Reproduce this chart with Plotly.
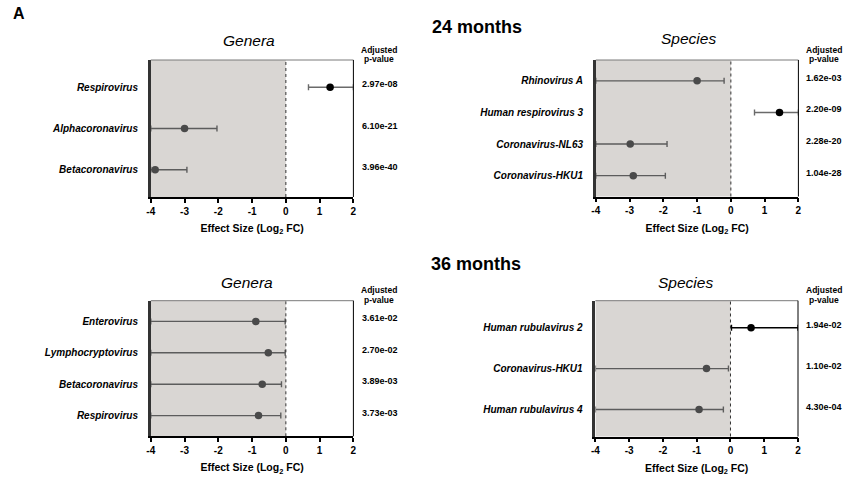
import plotly.graph_objects as go

# ---------------- data ----------------
g24_names = ["Respirovirus", "Alphacoronavirus", "Betacoronavirus"]
g24_fc = [1.31, -3.0, -3.87]
g24_lo = [0.67, -4.0, -4.0]
g24_hi = [2.0, -2.04, -2.93]
g24_p = ["2.97e-08", "6.10e-21", "3.96e-40"]

s24_names = ["Rhinovirus A", "Human respirovirus 3", "Coronavirus-NL63", "Coronavirus-HKU1"]
s24_fc = [-1.0, 1.44, -2.98, -2.89]
s24_lo = [-4.0, 0.70, -4.0, -4.0]
s24_hi = [-0.2, 2.0, -1.89, -1.94]
s24_p = ["1.62e-03", "2.20e-09", "2.28e-20", "1.04e-28"]

g36_names = ["Enterovirus", "Lymphocryptovirus", "Betacoronavirus", "Respirovirus"]
g36_fc = [-0.89, -0.52, -0.70, -0.81]
g36_lo = [-4.0, -4.0, -4.0, -4.0]
g36_hi = [-0.02, -0.02, -0.13, -0.15]
g36_p = ["3.61e-02", "2.70e-02", "3.89e-03", "3.73e-03"]

s36_names = ["Human rubulavirus 2", "Coronavirus-HKU1", "Human rubulavirus 4"]
s36_fc = [0.61, -0.71, -0.93]
s36_lo = [0.03, -4.0, -4.0]
s36_hi = [2.0, -0.06, -0.21]
s36_p = ["1.94e-02", "1.10e-02", "4.30e-04"]

x_ticks = [-4, -3, -2, -1, 0, 1, 2]
x_range = [-4, 2]
panel_titles = ["Genera", "Species", "Genera", "Species"]
time_labels = ["24 months", "36 months"]
x_title = "Effect Size (Log<sub>2</sub> FC)"
p_header = ["Adjusted", "p-value"]

# ---------------- layout geometry ----------------
W, H = 850, 477
FONT = "Liberation Sans, Arial, Helvetica, sans-serif"

def px_x(v):
    return v / W

def px_y(v):
    return 1 - v / H

panels = [
    dict(names=g24_names, fc=g24_fc, lo=g24_lo, hi=g24_hi, p=g24_p,
         xd=[148, 352.3], yd=[60, 197], title=(246.7, 40), hdr=(378, 50, 59), px=379, posbar="#6a6a6a"),
    dict(names=s24_names, fc=s24_fc, lo=s24_lo, hi=s24_hi, p=s24_p,
         xd=[596.7, 801], yd=[60, 196.5], title=(690, 38), hdr=(826.7, 50, 59), px=826.5, posbar="#6a6a6a"),
    dict(names=g36_names, fc=g36_fc, lo=g36_lo, hi=g36_hi, p=g36_p,
         xd=[148, 352.3], yd=[300.7, 436.3], title=(245.3, 282.3), hdr=(378, 290, 299.5), px=379.5, posbar="#6a6a6a"),
    dict(names=s36_names, fc=s36_fc, lo=s36_lo, hi=s36_hi, p=s36_p,
         xd=[596.3, 800.6], yd=[300.7, 436.5], title=(687.3, 282.3), hdr=(826.7, 289.5, 299.5), px=826.5, posbar="#000000"),
]

fig = go.Figure()
shapes = []
annotations = []
layout_axes = {}

for i, pn in enumerate(panels):
    k = "" if i == 0 else str(i + 1)
    xa, ya = "x" + k, "y" + k
    n = len(pn["names"])
    ypos = list(range(n))
    for j in range(n):
        fc = pn["fc"][j]
        pos = fc > 0
        fig.add_trace(go.Scatter(
            x=[fc], y=[ypos[j]], xaxis=xa, yaxis=ya, mode="markers",
            marker=dict(size=7.5, color="#000000" if pos else "#4a4a4a"),
            error_x=dict(type="data", symmetric=False,
                         array=[pn["hi"][j] - fc], arrayminus=[fc - pn["lo"][j]],
                         color=pn["posbar"] if pos else "#5c5c5c",
                         thickness=1.4, width=3),
            showlegend=False, hoverinfo="skip"))
        annotations.append(dict(
            text="<b>%s</b>" % pn["p"][j], xref="paper", yref=ya, x=px_x(pn["px"]), y=ypos[j],
            yshift=3, showarrow=False, xanchor="center", yanchor="middle",
            font=dict(family=FONT, size=9, color="#000000")))

    layout_axes["xaxis" + k] = dict(
        domain=[px_x(pn["xd"][0]), px_x(pn["xd"][1])], range=x_range, anchor=ya,
        tickvals=x_ticks, ticktext=["<b>%d</b>" % t for t in x_ticks],
        ticks="outside", ticklen=4, tickwidth=1.5, tickcolor="#000000",
        showline=True, linecolor="#000000", linewidth=1.5, showgrid=False, zeroline=False,
        tickfont=dict(family=FONT, size=10, color="#000000"),
        title=dict(text="<b>%s</b>" % x_title, font=dict(family=FONT, size=10.5, color="#000000"), standoff=9),
        fixedrange=True)
    layout_axes["yaxis" + k] = dict(
        domain=[px_y(pn["yd"][1]), px_y(pn["yd"][0])], range=[n - 1 + 0.66, -0.66], anchor=xa,
        tickvals=ypos, ticktext=["<b><i>%s</i></b>" % s for s in pn["names"]],
        ticks="", ticklabelstandoff=8,
        showline=True, linecolor="#333333", linewidth=2.5, showgrid=False, zeroline=False,
        tickfont=dict(family=FONT, size=10, color="#000000"), fixedrange=True)

    xd, yd = xa + " domain", ya + " domain"
    shapes.append(dict(type="rect", xref=xa, yref=yd, x0=x_range[0], x1=0, y0=0, y1=1,
                       fillcolor="#d9d6d3", line=dict(width=0), layer="below"))
    shapes.append(dict(type="line", xref=xa, yref=yd, x0=0, x1=0, y0=0, y1=1,
                       line=dict(color="#333333", width=1, dash="dot"), layer="above"))
    shapes.append(dict(type="line", xref=xd, yref=yd, x0=0, x1=1, y0=1, y1=1,
                       line=dict(color="#7a7a7a", width=1)))
    shapes.append(dict(type="line", xref=xd, yref=yd, x0=1, x1=1, y0=0, y1=1,
                       line=dict(color="#000000", width=1)))

    tx, ty = pn["title"]
    annotations.append(dict(text="<i>%s</i>" % panel_titles[i], xref="paper", yref="paper",
                            x=px_x(tx), y=px_y(ty), showarrow=False, xanchor="center", yanchor="middle",
                            font=dict(family=FONT, size=15.5, color="#000000")))
    hx, hy1, hy2 = pn["hdr"]
    for txt, hy in zip(p_header, [hy1, hy2]):
        annotations.append(dict(text="<b>%s</b>" % txt, xref="paper", yref="paper",
                                x=px_x(hx), y=px_y(hy), showarrow=False, xanchor="center", yanchor="middle",
                                font=dict(family=FONT, size=8.5, color="#000000")))

annotations.append(dict(text="<b>A</b>", xref="paper", yref="paper", x=px_x(7), y=px_y(14),
                        showarrow=False, xanchor="left", yanchor="middle",
                        font=dict(family=FONT, size=16, color="#000000")))
for txt, (lx, ly) in zip(time_labels, [(429.5, 26.7), (428.3, 263.5)]):
    annotations.append(dict(text="<b>%s</b>" % txt, xref="paper", yref="paper", x=px_x(lx), y=px_y(ly),
                            showarrow=False, xanchor="left", yanchor="middle",
                            font=dict(family=FONT, size=18, color="#000000")))

fig.update_layout(
    width=W, height=H, autosize=False,
    margin=dict(l=0, r=0, t=0, b=0, pad=0),
    paper_bgcolor="#ffffff", plot_bgcolor="#ffffff",
    shapes=shapes, annotations=annotations,
    font=dict(family=FONT, color="#000000"),
    **layout_axes)

fig.write_html("out.html", config={"displayModeBar": False},
               post_script="document.body.style.margin='0';document.body.style.overflow='hidden';")
